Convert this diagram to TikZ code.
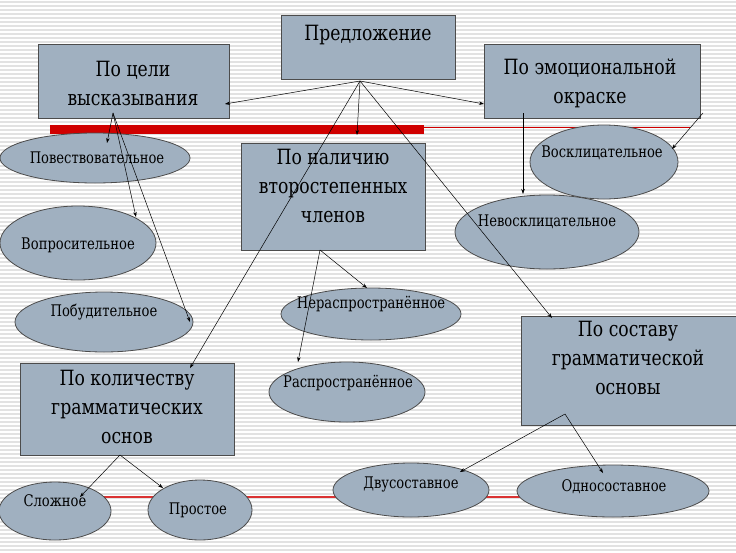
\documentclass[tikz,border=0pt]{standalone}
\usepackage{fontspec}
\newfontfamily\rus[FakeStretch=0.82]{DejaVu Serif}
\usetikzlibrary{arrows.meta}
\definecolor{boxfill}{HTML}{A0B0C0}
\definecolor{stripe}{HTML}{E2E2E2}
\definecolor{redbar}{HTML}{D00000}
\begin{document}
\begin{tikzpicture}[x=1pt,y=-1pt,
  bx/.style={draw=black!70,fill=boxfill,line width=0.8pt,align=center,font=\rus\fontsize{21}{29}\selectfont,inner sep=0pt},
  etxt/.style={font=\rus\fontsize{16}{20}\selectfont,inner sep=0pt},
  ar/.style={-{Stealth[length=5pt,width=3.5pt]},line width=0.5pt}]
\useasboundingbox (0,0) rectangle (736,552);
\fill[white] (0,0) rectangle (736,552);
\foreach \y in {2,6,...,550} \draw[stripe,line width=1.4pt] (0,\y) -- (736,\y);
% red lines
\draw[redbar,line width=0.8pt] (424,127) -- (690,127);
\draw[redbar!80,line width=1.2pt] (100,497) -- (520,497);
\fill[redbar] (50,125) rectangle (424,134);
% boxes
\path[bx,draw] (281,15) rectangle (455,79); \node[bx,draw=none,fill=none] (pred) at (368,35) {Предложение};
\path[bx,draw] (38,44) rectangle (229,118); \node[bx,draw=none,fill=none] (cel) at (133,83) {По цели\\высказывания};
\path[bx,draw] (484,44) rectangle (700,118); \node[bx,draw=none,fill=none] (emo) at (590,83) {По эмоциональной\\окраске};
\path[bx,draw] (241,143) rectangle (425,250); \node[bx,draw=none,fill=none] (nal) at (333,186) {По наличию\\второстепенных\\членов};
\path[bx,draw] (20,363) rectangle (234,455); \node[bx,draw=none,fill=none] (kol) at (127,407) {По количеству\\грамматических\\основ};
\path[bx,draw] (521,316) rectangle (736,425); \node[bx,draw=none,fill=none] (sos) at (628,358) {По составу\\грамматической\\основы};
% ellipses
\foreach \n/\cx/\cy/\rx/\ry in {e1/95/158/95/25, e2/78/243/78/37, e3/104/322/89/30, e4/604/162/74/37, e5/547/232/92/37, e6/371/314/90/26, e7/347/392/78/30, e8/55/511/56/29, e9/200/510/52/30, e10/411/490/78/27, e11/613/491/96/26}
  \draw[draw=black!70,fill=boxfill,line width=0.8pt] (\cx,\cy) ellipse [x radius=\rx, y radius=\ry];
\node[etxt] (t1) at (97,158) {Повествовательное};
\node[etxt] (t2) at (78,245) {Вопросительное};
\node[etxt] (t3) at (104,312) {Побудительное};
\node[etxt] (t4) at (602,153) {Восклицательное};
\node[etxt] (t5) at (547,222) {Невосклицательное};
\node[etxt] (t6) at (371,304) {Нераспространённое};
\node[etxt] (t7) at (348,383) {Распространённое};
\node[etxt] (t8) at (55,501) {Сложное};
\node[etxt] (t9) at (198,510) {Простое};
\node[etxt] (t10) at (411,484) {Двусоставное};
\node[etxt] (t11) at (614,487) {Односоставное};
% anchor coordinates
\coordinate (p0) at (360,81);
\coordinate (c0) at (113,113);
\coordinate (m0) at (523,113);
\coordinate (m1) at (703,113);
\coordinate (n0) at (320,250);
\coordinate (k0) at (120,455);
\coordinate (s0) at (565,414);
\coordinate (a1) at (225,104); \coordinate (a2) at (484,104); \coordinate (a3) at (357,135);
\coordinate (a4) at (190,368); \coordinate (a5) at (552,318);
\coordinate (b1) at (107,143); \coordinate (b2) at (136,217); \coordinate (b3) at (190,322);
\coordinate (b4) at (523,194); \coordinate (b5) at (672,149);
\coordinate (b6) at (367,288); \coordinate (b7) at (298,362);
\coordinate (b8) at (80,497); \coordinate (b9) at (163,488);
\coordinate (b10) at (460,472); \coordinate (b11) at (603,473);
\foreach \f/\t in {p0/a1,p0/a2,p0/a3,p0/a4,p0/a5,c0/b1,c0/b2,c0/b3,m0/b4,m1/b5,n0/b6,n0/b7,k0/b8,k0/b9,s0/b10,s0/b11}
  \draw[ar] (\f) -- (\t);
\end{tikzpicture}
\end{document}
